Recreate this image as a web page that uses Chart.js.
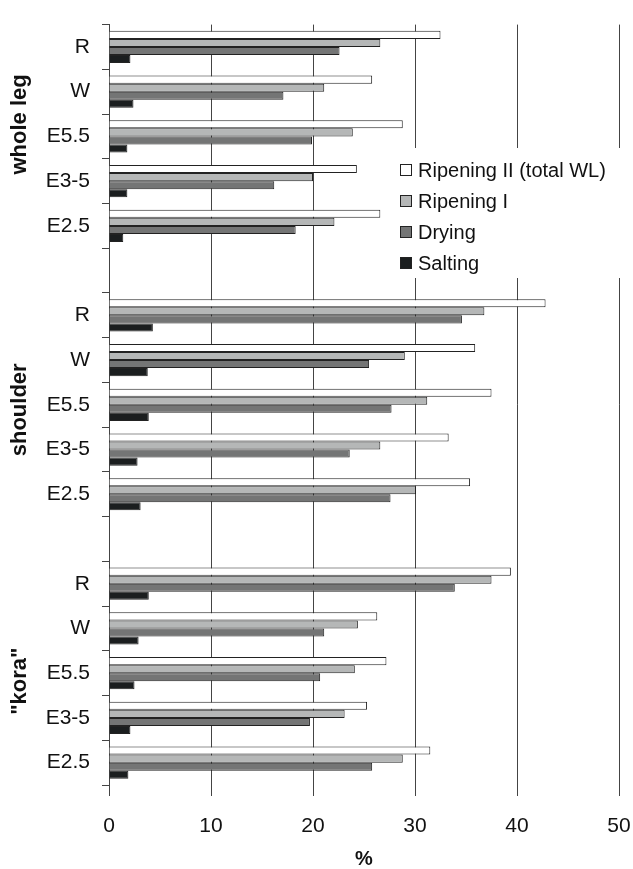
<!DOCTYPE html>
<html>
<head>
<meta charset="utf-8">
<script src="https://cdn.jsdelivr.net/npm/chart.js@4.4.0/dist/chart.umd.min.js"></script>
<style>
  html, body { margin: 0; padding: 0; background: #fff; }
</style>
</head>
<body>
<canvas id="chart" width="633" height="869"></canvas>
<script>
// === Data === //
const groupNames = ['whole leg', 'shoulder', '"kora"']
const treatments = ['R', 'W', 'E5.5', 'E3-5', 'E2.5']
const categoryLabels = [...treatments, '', ...treatments, '', ...treatments]

// empty slot (null) separates the groups
const ripening2 = [32.5, 25.8, 28.8, 24.3, 26.6, null, 42.8, 35.9, 37.5, 33.3, 35.4, null, 39.4, 26.3, 27.2, 25.3, 31.5]
const ripening1 = [26.6, 21.1, 23.9, 20.0, 22.1, null, 36.8, 29.0, 31.2, 26.6, 30.1, null, 37.5, 24.4, 24.1, 23.1, 28.8]
const drying    = [22.6, 17.1, 19.9, 16.2, 18.3, null, 34.6, 25.5, 27.7, 23.6, 27.6, null, 33.9, 21.1, 20.7, 19.7, 25.8]
const salting   = [2.1, 2.4, 1.8, 1.8, 1.4, null, 4.3, 3.8, 3.9, 2.8, 3.1, null, 3.9, 2.9, 2.5, 2.1, 1.9]

const xTicks = [0, 10, 20, 30, 40, 50]

const fontFamily = "'Liberation Sans', Arial, sans-serif"
const textColor = '#111'
const lineColor = '#444'

// small nudges so the rotated names sit where the original put them
const groupLabelShift = [-12, 5, 8]

// rotated group names at the left
const groupLabelPlugin = {
  id: 'groupLabels',
  afterDraw(chart) {
    const ctx = chart.ctx
    const y = chart.scales.y
    ctx.save()
    ctx.font = `bold 22px ${fontFamily}`
    ctx.fillStyle = textColor
    ctx.textAlign = 'center'
    ctx.textBaseline = 'middle'
    groupNames.forEach((name, g) => {
      const first = g * 6
      const last = first + treatments.length - 1
      const cy = (y.getPixelForValue(first) + y.getPixelForValue(last)) / 2 + groupLabelShift[g]
      ctx.save()
      ctx.translate(20, cy)
      ctx.rotate(-Math.PI / 2)
      ctx.fillText(name, 0, 0)
      ctx.restore()
    })
    ctx.restore()
  }
}

// legend box inside the plot, over the grid lines
const innerLegendPlugin = {
  id: 'innerLegend',
  afterDraw(chart) {
    const ctx = chart.ctx
    const left = 393, top = 148, rowGap = 31
    ctx.save()
    ctx.fillStyle = '#fff'
    ctx.fillRect(left, top, 240, 130)
    ctx.font = `20px ${fontFamily}`
    ctx.textBaseline = 'middle'
    chart.data.datasets.forEach((ds, i) => {
      const cy = top + 22 + i * rowGap
      ctx.fillStyle = ds.backgroundColor
      ctx.fillRect(left + 7.5, cy - 5.5, 11, 11)
      ctx.strokeStyle = '#222'
      ctx.lineWidth = 1
      ctx.strokeRect(left + 7.5, cy - 5.5, 11, 11)
      ctx.fillStyle = textColor
      ctx.fillText(ds.label, left + 25, cy + 1)
    })
    ctx.restore()
  }
}

function barSet(label, values, color) {
  return {
    label: label,
    data: values,
    backgroundColor: color,
    borderColor: '#222',
    borderWidth: 1,
    categoryPercentage: 0.72,
    barPercentage: 1.0
  }
}

const config = {
  type: 'bar',
  data: {
    labels: categoryLabels,
    datasets: [
      barSet('Ripening II (total WL)', ripening2, '#ffffff'),
      barSet('Ripening I', ripening1, '#b5b7b7'),
      barSet('Drying', drying, '#747575'),
      barSet('Salting', salting, '#1b1e1f')
    ]
  },
  options: {
    indexAxis: 'y',
    responsive: false,
    animation: false,
    layout: { padding: { top: 14, right: 14, bottom: 0, left: 0 } },
    plugins: {
      legend: { display: false },
      tooltip: { enabled: false }
    },
    scales: {
      x: {
        min: 0,
        max: 50,
        afterBuildTicks: s => { s.ticks = xTicks.map(v => ({ value: v })) },
        afterFit: s => { s.height = 84; s.paddingLeft = 0; s.paddingRight = 0 },
        grid: { color: lineColor, lineWidth: 1, tickLength: 11 },
        border: { display: false },
        ticks: { font: { size: 21, family: fontFamily }, color: textColor, padding: 18 },
        title: {
          display: true,
          text: '%',
          font: { size: 20, weight: 'bold', family: fontFamily, lineHeight: 1 },
          color: textColor,
          padding: 0
        }
      },
      y: {
        afterFit: s => { s.width = 109 },
        grid: { drawOnChartArea: false, tickLength: 7, color: lineColor, offset: true },
        border: { display: true, color: lineColor },
        ticks: { font: { size: 21, family: fontFamily }, color: textColor, padding: 12, autoSkip: false }
      }
    }
  },
  plugins: [groupLabelPlugin, innerLegendPlugin]
}

new Chart(document.getElementById('chart'), config)
</script>
</body>
</html>
